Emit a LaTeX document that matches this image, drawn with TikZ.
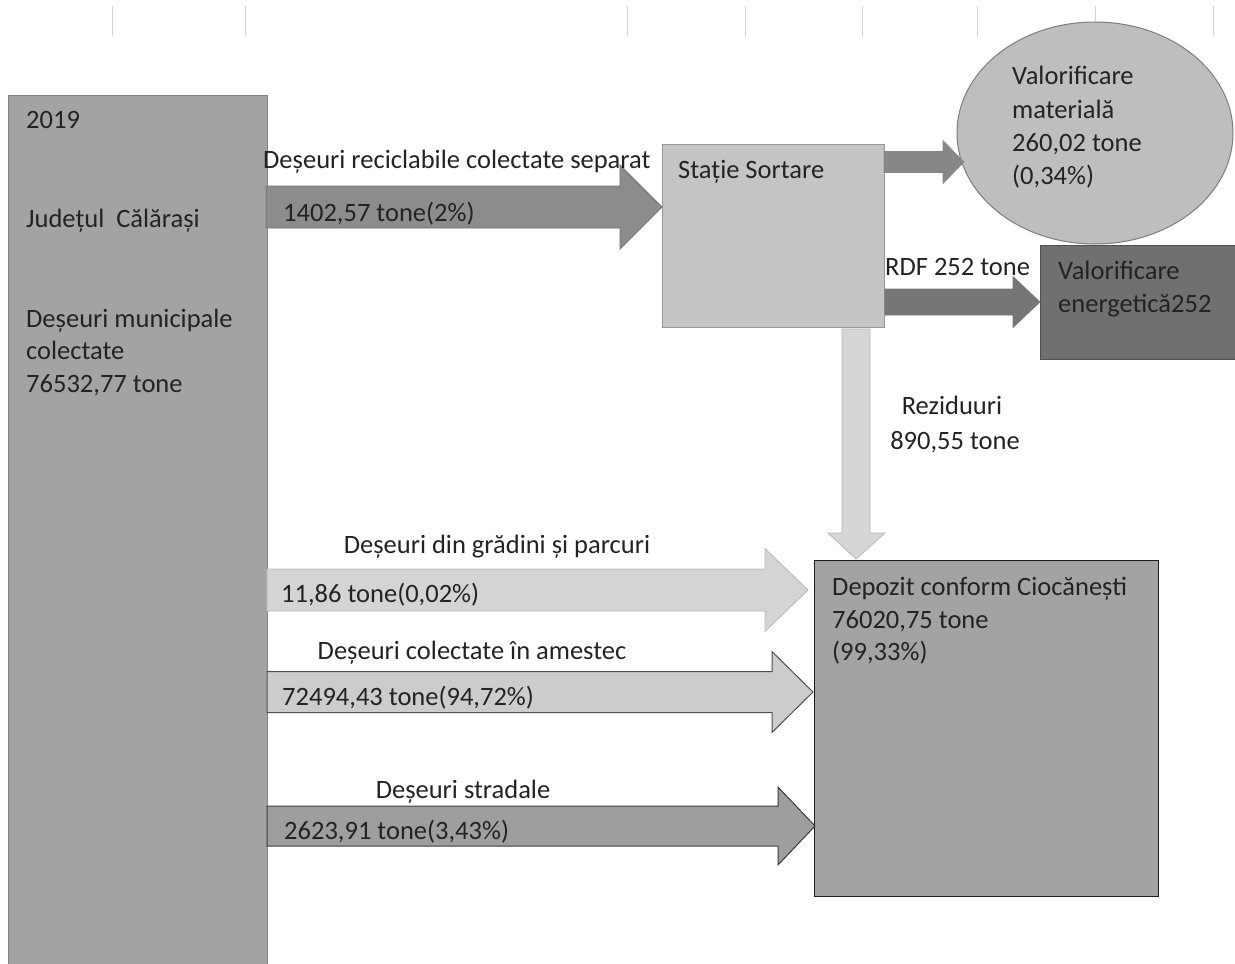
\documentclass[tikz,border=0pt]{standalone}
\usepackage{fontspec}
\setmainfont{Carlito}
\usetikzlibrary{shapes.geometric}
\definecolor{txtc}{RGB}{35,35,35}
\definecolor{srcfill}{RGB}{163,163,163}
\definecolor{srcdraw}{RGB}{130,130,130}
\definecolor{aonefill}{RGB}{140,140,140}
\definecolor{aonedraw}{RGB}{115,115,115}
\definecolor{sortfill}{RGB}{196,196,196}
\definecolor{sortdraw}{RGB}{150,150,150}
\definecolor{circfill}{RGB}{190,190,190}
\definecolor{circdraw}{RGB}{125,125,125}
\definecolor{atwofill}{RGB}{135,135,135}
\definecolor{rdffill}{RGB}{118,118,118}
\definecolor{enfill}{RGB}{112,112,112}
\definecolor{endraw}{RGB}{80,80,80}
\definecolor{rezfill}{RGB}{214,214,214}
\definecolor{rezdraw}{RGB}{185,185,185}
\definecolor{depfill}{RGB}{163,163,163}
\definecolor{depdraw}{RGB}{30,30,30}
\definecolor{gardfill}{RGB}{212,212,212}
\definecolor{garddraw}{RGB}{185,185,185}
\definecolor{mixfill}{RGB}{204,204,204}
\definecolor{mixdraw}{RGB}{80,80,80}
\definecolor{strfill}{RGB}{158,158,158}
\definecolor{strdraw}{RGB}{60,60,60}
\definecolor{tickc}{RGB}{212,212,212}
% horizontal block arrow: style, x0, x head, x tip, y mid, shaft half, head half
\newcommand{\hblockarrow}[7]{%
  \filldraw[#1] (#2,#5-#6) -- (#3,#5-#6) -- (#3,#5-#7) -- (#4,#5) -- (#3,#5+#7) -- (#3,#5+#6) -- (#2,#5+#6) -- cycle;}
\begin{document}
\begin{tikzpicture}[x=1pt,y=-1pt,
  txt/.style={font=\fontsize{26.5}{33}\selectfont, text=txtc, inner sep=0pt},
  lbl/.style={txt, anchor=base west},
  clbl/.style={txt, anchor=base},
  box/.style={rectangle, inner sep=0pt, anchor=north west}]
\useasboundingbox (0,0) rectangle (1235,964);
\fill[white] (0,0) rectangle (1235,964);
% scan ruler ticks
\foreach \x in {112,245,627,745,862,977,1095,1213}
  \draw[tickc, line width=0.8pt] (\x,6) -- (\x,36);
% source box
\node[box, fill=srcfill, minimum width=259pt, minimum height=869pt] (src) at (8,95) {};
\draw[srcdraw, line width=0.8pt] (src.south west) -- (src.north west) -- (src.north east) -- (src.south east);
% sorting station
\node[box, fill=sortfill, draw=sortdraw, line width=1pt, minimum width=222pt, minimum height=183pt] (sort) at (662,144) {};
% material recovery ellipse
\node[ellipse, fill=circfill, draw=circdraw, line width=1pt, minimum width=276pt, minimum height=222pt, inner sep=0pt] (mat) at (1095,133) {};
% energy recovery box
\node[box, fill=enfill, draw=endraw, line width=1pt, minimum width=200pt, minimum height=114pt] (en) at (1040,245) {};
% landfill
\node[box, fill=depfill, draw=depdraw, line width=1.4pt, minimum width=344pt, minimum height=336pt] (dep) at (814,560) {};
% arrows
\hblockarrow{fill=aonefill, draw=aonedraw, line width=0.8pt}{266}{620}{662}{207}{21}{42}
\hblockarrow{fill=atwofill, draw=atwofill, line width=0.6pt}{884}{943}{964}{162}{10.5}{21.5}
\hblockarrow{fill=rdffill, draw=rdffill, line width=0.6pt}{885}{1013}{1040}{302}{13}{25.5}
\hblockarrow{fill=gardfill, draw=garddraw, line width=0.8pt}{267}{765}{808}{590}{21}{41.5}
\hblockarrow{fill=mixfill, draw=mixdraw, line width=1pt}{267}{772}{813}{692}{20.5}{40.5}
\hblockarrow{fill=strfill, draw=strdraw, line width=1pt}{267}{778}{815}{826}{20}{39}
% residue arrow (vertical)
\filldraw[fill=rezfill, draw=rezdraw, line width=0.8pt]
  (842,329) -- (870,329) -- (870,533) -- (885,533) -- (856,559) -- (828,533) -- (842,533) -- cycle;
% texts: source
\node[lbl] (t1) at (26,128) {2019};
\node[lbl] (t2) at (26,227) {Județul\ \ Călărași};
\node[lbl] (t3) at (26,327) {Deșeuri municipale};
\node[lbl] (t4) at (26,359) {colectate};
\node[lbl] (t5) at (26,392) {76532,77 tone};
% recyclables
\node[lbl] (r1) at (263,168) {Deșeuri reciclabile colectate separat};
\node[lbl] (r2) at (283,221) {1402,57 tone(2\%)};
% sorting
\node[lbl] (s1) at (678,178) {Stație Sortare};
% material
\node[lbl] (m1) at (1012,84) {Valorificare};
\node[lbl] (m2) at (1012,118) {materială};
\node[lbl] (m3) at (1012,151) {260,02 tone};
\node[lbl] (m4) at (1012,184) {(0,34\%)};
% RDF
\node[lbl] (d1) at (885,275) {RDF 252 tone};
\node[lbl] (e1) at (1058,279) {Valorificare};
\node[lbl] (e2) at (1058,312) {energetică252};
% residues
\node[clbl] (z1) at (952,414) {Reziduuri};
\node[clbl] (z2) at (955,449) {890,55 tone};
% gardens
\node[clbl] (g1) at (497,553) {Deșeuri din grădini și parcuri};
\node[lbl] (g2) at (281,602) {11,86 tone(0,02\%)};
% mixed
\node[clbl] (x1) at (472,659) {Deșeuri colectate în amestec};
\node[lbl] (x2) at (282,705) {72494,43 tone(94,72\%)};
% street
\node[clbl] (y1) at (463,798) {Deșeuri stradale};
\node[lbl] (y2) at (284,839) {2623,91 tone(3,43\%)};
% landfill
\node[lbl] (p1) at (832,595) {Depozit conform Ciocănești};
\node[lbl] (p2) at (832,628) {76020,75 tone};
\node[lbl] (p3) at (832,660) {(99,33\%)};
\end{tikzpicture}
\end{document}
